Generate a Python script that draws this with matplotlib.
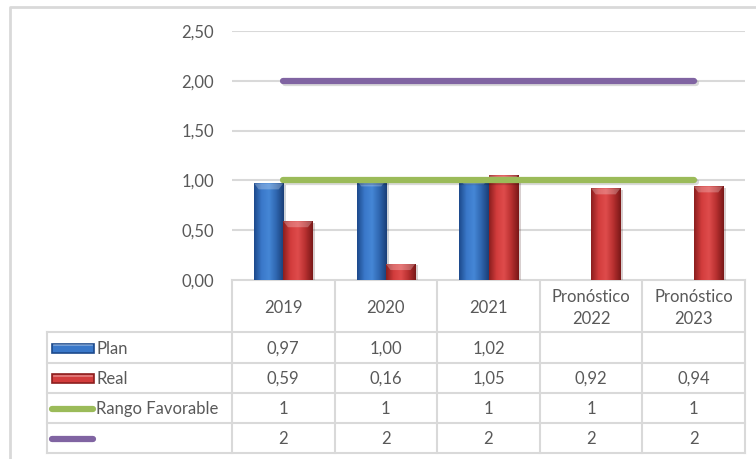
import numpy as np
import matplotlib
matplotlib.use("Agg")
import matplotlib.pyplot as plt
import matplotlib.patheffects as pe
from matplotlib.colors import LinearSegmentedColormap
from matplotlib.patches import Rectangle, Polygon

# Datos del gráfico
categorias = ["2019", "2020", "2021", "Pronóstico\n2022", "Pronóstico\n2023"]
plan = [0.97, 1.00, 1.02, None, None]
real = [0.59, 0.16, 1.05, 0.92, 0.94]
rango_favorable = [1, 1, 1, 1, 1]
limite = [2, 2, 2, 2, 2]
series_tabla = ["Plan", "Real", "Rango Favorable", ""]

plt.rcParams["font.family"] = ["Lato", "DejaVu Sans"]
GRIS_TEXTO = "#595959"
GRIS_LINEA = "#d9d9d9"
TAM = 12

AZUL = ["#1d4a8c", "#3a78c9", "#4587d6", "#2f66b0", "#1a3f78"]
ROJO = ["#8c1f1f", "#d23c3c", "#df4c4c", "#b83030", "#7a1818"]
VERDE = "#9bbb59"
MORADO = "#8064a2"

W, H = 756, 459
fig = plt.figure(figsize=(W / 100, H / 100), dpi=100)

# ejes del gráfico (en píxeles de la figura)
x_izq, x_der, y_sup, y_inf = 232, 745, 31, 280
ax = fig.add_axes([x_izq / W, 1 - y_inf / H, (x_der - x_izq) / W, (y_inf - y_sup) / H])
ax.set_xlim(-0.5, 4.5)
ax.set_ylim(0, 2.5)
ax.set_yticks(np.arange(0, 2.51, 0.5))
ax.set_yticklabels([f"{v:.2f}".replace(".", ",") for v in np.arange(0, 2.51, 0.5)])
ax.tick_params(axis="y", length=0, pad=13, labelsize=TAM, labelcolor=GRIS_TEXTO)
ax.set_xticks([])
for s in ax.spines.values():
    s.set_visible(False)
ax.grid(axis="y", color=GRIS_LINEA, lw=1.5, zorder=0)
ax.set_axisbelow(True)

ancho = 0.285
x = np.arange(len(categorias))


def barra_degradada(xc, alto, colores):
    cmap = LinearSegmentedColormap.from_list("b", colores)
    rect = Rectangle((xc - ancho / 2, 0), ancho, alto, facecolor=colores[1],
                     edgecolor="none", zorder=2,
                     path_effects=[pe.SimplePatchShadow(offset=(2, -1), alpha=0.2), pe.Normal()])
    ax.add_patch(rect)
    grad = np.linspace(0, 1, 64).reshape(1, -1)
    img = ax.imshow(grad, extent=[xc - ancho / 2, xc + ancho / 2, 0, alto],
                    aspect="auto", cmap=cmap, zorder=2.1)
    img.set_clip_path(rect)
    # bisel superior
    dx, dy = 0.045, 0.06
    if alto > dy * 1.5:
        bisel = Polygon([(xc - ancho / 2, alto), (xc + ancho / 2, alto),
                         (xc + ancho / 2 - dx, alto - dy), (xc - ancho / 2 + dx, alto - dy)],
                        closed=True, facecolor="white", alpha=0.25, edgecolor="none", zorder=2.2)
        ax.add_patch(bisel)


for i in range(len(categorias)):
    if plan[i] is not None:
        barra_degradada(x[i] - ancho / 2, plan[i], AZUL)
    if real[i] is not None:
        barra_degradada(x[i] + ancho / 2, real[i], ROJO)

sombra = [pe.SimpleLineShadow(offset=(1.5, -1.5), alpha=0.15), pe.Normal()]
ax.plot(x, rango_favorable, color=VERDE, lw=4.5, solid_capstyle="round",
        zorder=3, path_effects=sombra)
ax.plot(x, limite, color=MORADO, lw=4.5, solid_capstyle="round",
        zorder=3, path_effects=sombra)
ax.set_xlim(-0.5, 4.5)
ax.set_ylim(0, 2.5)

# capa en píxeles para la tabla de datos y el borde
ov = fig.add_axes([0, 0, 1, 1], zorder=-1)
ov.set_xlim(0, W)
ov.set_ylim(H, 0)
ov.axis("off")

ov.plot([10, 10, W + 5], [H + 5, 7, 7], color=GRIS_LINEA, lw=2)

filas_y = [280, 332, 363, 393, 423, 453]
col_x = np.linspace(x_izq, x_der, len(categorias) + 1)
x_tabla = 47

ov.plot([x_izq, x_der], [filas_y[0], filas_y[0]], color=GRIS_LINEA, lw=1.5)
for y in filas_y[1:]:
    ov.plot([x_tabla, x_der], [y, y], color=GRIS_LINEA, lw=1.5)
ov.plot([x_tabla, x_tabla], [filas_y[1], filas_y[-1]], color=GRIS_LINEA, lw=1.5)
for cx in col_x:
    ov.plot([cx, cx], [filas_y[0], filas_y[-1]], color=GRIS_LINEA, lw=1.5)

centros = (col_x[:-1] + col_x[1:]) / 2
for cx, cat in zip(centros, categorias):
    ov.text(cx, (filas_y[0] + filas_y[1]) / 2 + 2, cat, ha="center", va="center",
            fontsize=TAM, color=GRIS_TEXTO, linespacing=1.4)

valores_tabla = [
    ["" if v is None else f"{v:.2f}".replace(".", ",") for v in plan],
    [f"{v:.2f}".replace(".", ",") for v in real],
    [str(v) for v in rango_favorable],
    [str(v) for v in limite],
]
for f, (nombre, fila) in enumerate(zip(series_tabla, valores_tabla)):
    yc = (filas_y[f + 1] + filas_y[f + 2]) / 2
    for cx, txt in zip(centros, fila):
        ov.text(cx, yc + 1, txt, ha="center", va="center", fontsize=TAM, color=GRIS_TEXTO)
    ov.text(96, yc + 1, nombre, ha="left", va="center", fontsize=TAM, color=GRIS_TEXTO)

# símbolos de la leyenda
for f, colores in enumerate([AZUL, ROJO]):
    yc = (filas_y[f + 1] + filas_y[f + 2]) / 2
    ov.add_patch(Rectangle((52, yc - 4), 42, 9, facecolor=colores[1],
                           edgecolor=colores[0], lw=1.2))
    ov.plot([54, 92], [yc - 2.5, yc - 2.5], color="white", alpha=0.35, lw=1.2)
for f, color in [(2, VERDE), (3, MORADO)]:
    yc = (filas_y[f + 1] + filas_y[f + 2]) / 2
    ov.plot([52, 93], [yc + 1, yc + 1], color=color, lw=4.5, solid_capstyle="round")

fig.savefig("out.png", dpi=100)
